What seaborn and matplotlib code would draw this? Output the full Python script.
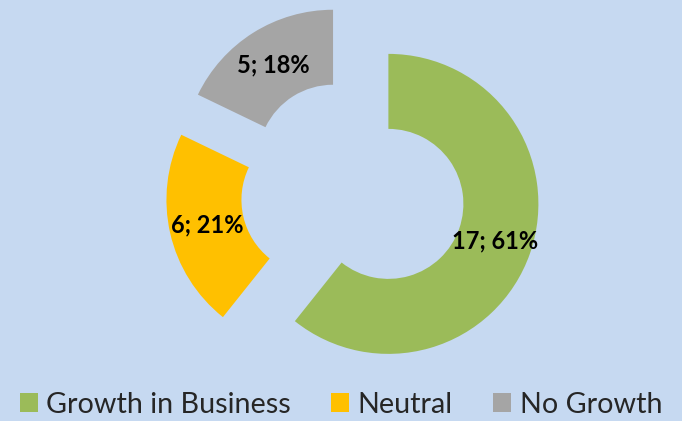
import matplotlib
matplotlib.use("Agg")
import matplotlib.pyplot as plt
import seaborn as sns
from matplotlib.patches import Patch

categories = ["Growth in Business", "Neutral", "No Growth"]
values = [17, 6, 5]
colors = ["#9BBB59", "#FFC000", "#A5A5A5"]
bg = "#C6D9F1"

sns.set_theme(style="white")
plt.rcParams["font.family"] = ["Lato", "DejaVu Sans"]

fig = plt.figure(figsize=(6.82, 4.21), dpi=100, facecolor=bg)
ax = fig.add_axes([0, 0, 1, 1])
ax.set_facecolor(bg)

total = sum(values)

def fmt(p):
    return f"{round(p * total / 100)}; {p:.0f}%"

wedges, texts, autotexts = ax.pie(
    values,
    colors=colors,
    startangle=90,
    counterclock=False,
    explode=[0.25, 0.25, 0.25],
    radius=1.0,
    wedgeprops=dict(width=0.5, edgecolor="none"),
    autopct=fmt,
    pctdistance=0.75,
    textprops=dict(fontsize=17, fontweight="bold", color="black"),
)

ax.set_aspect("auto")
ax.set_xlim(-353 / 150, (682 - 353) / 150)
ax.set_ylim(-229.5 / 150, (421 - 229.5) / 150)
ax.axis("off")

handles = [Patch(facecolor=c, edgecolor="none") for c in colors]
fig.legend(
    handles, categories,
    loc="lower center", bbox_to_anchor=(0.5, -0.026),
    ncol=3, frameon=False, fontsize=20.7,
    handlelength=0.62, handleheight=0.62,
    handletextpad=0.3, columnspacing=1.4, borderpad=0,
)

fig.savefig("out.png", dpi=100, facecolor=bg)
